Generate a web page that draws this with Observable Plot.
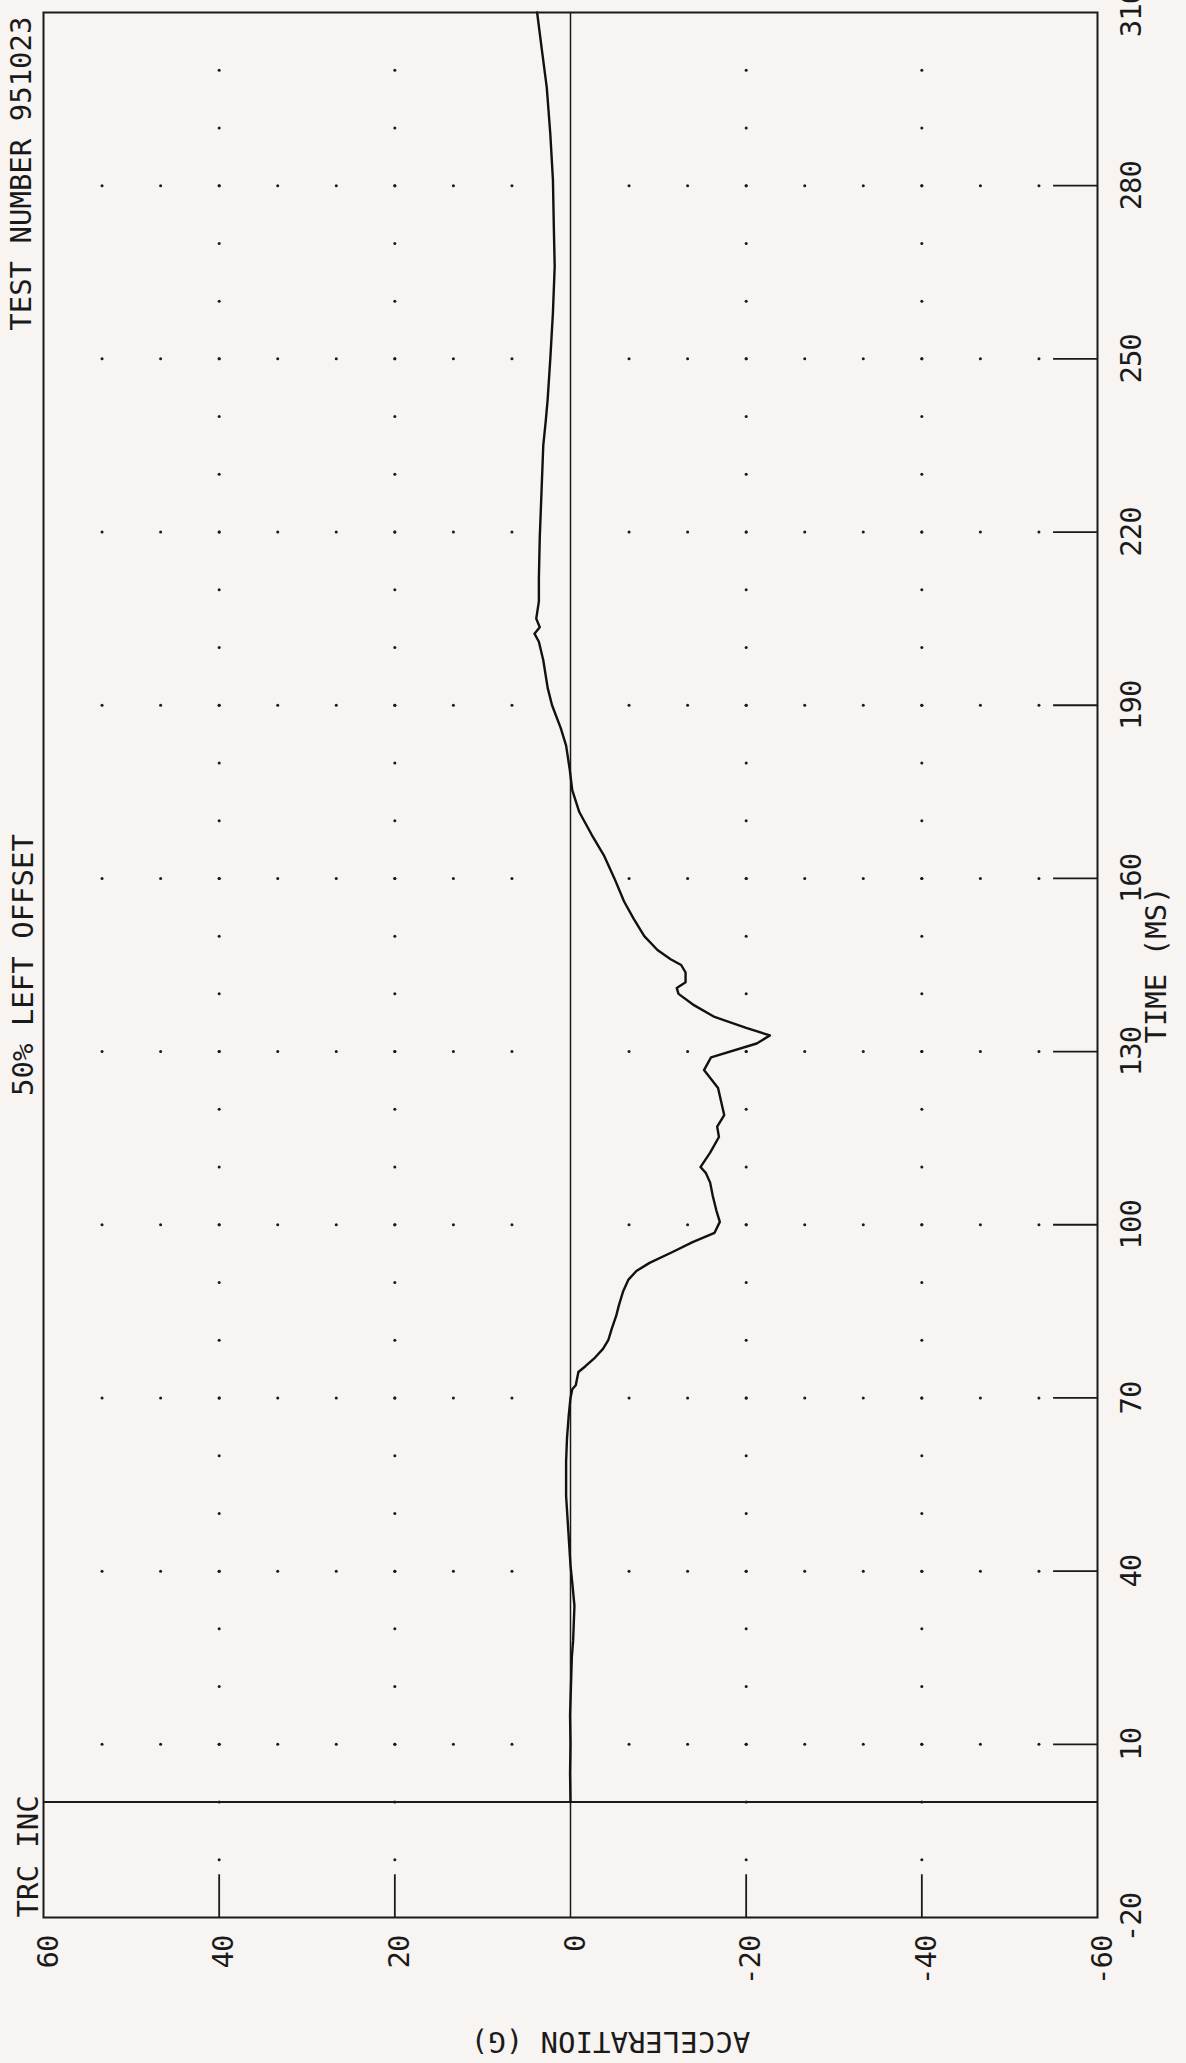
<!DOCTYPE html>
<html>
<head>
<meta charset="utf-8">
<script src="https://cdn.jsdelivr.net/npm/d3@7"></script>
<script src="https://cdn.jsdelivr.net/npm/@observablehq/plot@0.6"></script>
<style>
  html, body { margin: 0; padding: 0; background: #f7f4f2; }
  #chart svg { display: block; }
  g[aria-label="y-axis tick label"] text, g[aria-label="x-axis tick label"] text { letter-spacing: -1px; }
  g[aria-label="title"] text { letter-spacing: 0.5px; }
  g[aria-label="subtitle"] text { letter-spacing: 0.5px; }
  g[aria-label="credit"] text { letter-spacing: 0px; }
  g[aria-label="ylabel"] text { letter-spacing: 2.5px; }
  g[aria-label="xlabel"] text { letter-spacing: 0.5px; }
</style>
</head>
<body>
<div id="chart"></div>
<script>
// ---- data ----
const timeMs = [0, 5, 10, 15, 20, 25, 28, 34, 38, 41, 47, 53, 59, 63, 67, 70, 71.5, 72.2, 74.5, 75.5, 77, 78.5,
  80, 82, 84.2, 86, 88.5, 90.5, 92, 93.4, 95.2, 97, 98.6, 100.5, 102.5, 105, 107.3, 109, 110, 112.5, 115.2,
  117, 119, 121, 123.7, 126.8, 129, 131.4, 132.8, 134.1, 136, 138, 140, 141, 142, 143.7, 145, 146, 147.6,
  150, 153, 156, 160, 164, 167.6, 171.5, 175.3, 179, 183, 186, 190, 193, 197.8, 201, 202.4, 203.5, 205,
  208, 212, 219, 227, 235, 239.5, 243, 250, 258, 266, 273, 281, 289, 297, 304, 310];
const accelG = [0, 0.05, 0, 0.05, -0.05, -0.15, -0.3, -0.45, -0.2, 0, 0.25, 0.5, 0.5, 0.4, 0.2, 0, -0.2, -0.6, -0.9, -1.7, -2.8, -3.7,
  -4.3, -4.7, -5.2, -5.5, -6.0, -6.6, -7.5, -9.0, -11.5, -13.9, -16.4, -17.0, -16.6, -16.2, -15.9, -15.4, -14.8, -15.9, -16.9,
  -16.7, -17.5, -17.2, -16.8, -15.2, -16.0, -21.2, -22.7, -20.0, -16.4, -14.1, -12.3, -12.1, -13.1, -13.1, -12.6, -11.4, -9.9,
  -8.4, -7.2, -6.1, -5.0, -3.8, -2.4, -1.0, -0.2, 0.1, 0.5, 1.1, 2.1, 2.6, 3.1, 3.6, 4.1, 3.5, 3.9,
  3.6, 3.6, 3.5, 3.3, 3.1, 2.8, 2.6, 2.3, 2.0, 1.8, 1.9, 2.0, 2.3, 2.7, 3.3, 3.8];

const timeTicks = [-20, 10, 40, 70, 100, 130, 160, 190, 220, 250, 280, 310];
const timeTickMarks = [10, 40, 70, 100, 130, 160, 190, 220, 250, 280];
const accelTicks = [60, 40, 20, 0, -20, -40, -60];
const accelTickMarks = [40, 20, -20, -40];

// dot grid
const gridRows = [-10, 0, 10, 20, 30, 40, 50, 60, 70, 80, 90, 100, 110, 120, 130, 140, 150, 160, 170, 180,
  190, 200, 210, 220, 230, 240, 250, 260, 270, 280, 290, 300];
const gridCols = [40, 20, -20, -40];
const fineCols = [53.333, 46.667, 40, 33.333, 26.667, 20, 13.333, 6.667, -6.667, -13.333, -20, -26.667, -33.333,
  -40, -46.667, -53.333];

const titleText = "TEST NUMBER 951023";
const subtitleText = "50% LEFT OFFSET";
const creditText = "TRC INC";
const yLabel = "TIME (MS)";
const xLabel = "ACCELERATION (G)";

// ---- tables ----
const trace = timeMs.map((t, i) => ({t, g: accelG[i]}));
const dots = [];
for (const t of gridRows) for (const g of gridCols) dots.push({t, g});
for (const t of timeTickMarks) for (const g of fineCols) dots.push({t, g});

const ink = "#1a1a1a";

const chart = Plot.plot({
  width: 1186,
  height: 2063,
  marginTop: 12,
  marginBottom: 146,
  marginLeft: 43,
  marginRight: 89,
  style: {background: "#f7f4f2", fontFamily: "DejaVu Sans Mono", fontSize: "29px", color: ink},
  x: {domain: [60, -60]},
  y: {domain: [-20, 310]},
  marks: [
    Plot.dot(dots, {x: "g", y: "t", r: 1.5, fill: ink}),
    Plot.ruleX([0], {stroke: ink, strokeWidth: 1.5}),
    Plot.ruleY([0], {stroke: ink, strokeWidth: 2}),
    Plot.ruleY(timeTickMarks, {x1: -55, x2: -60, stroke: ink, strokeWidth: 1.8}),
    Plot.ruleX(accelTickMarks, {y1: -20, y2: -12.6, stroke: ink, strokeWidth: 1.8}),
    Plot.line(trace, {x: "g", y: "t", stroke: "#111", strokeWidth: 2.4}),
    Plot.frame({stroke: ink, strokeWidth: 2}),
    Plot.axisY(timeTicks, {anchor: "right", tickSize: 0, tickPadding: 43, tickRotate: -90,
      textAnchor: "middle", lineAnchor: "bottom", tickFormat: d => String(d), label: null, fontSize: 29, fill: ink}),
    Plot.axisX(accelTicks, {anchor: "bottom", tickSize: 0, tickPadding: 18, tickRotate: -90,
      textAnchor: "end", lineAnchor: "bottom", dx: 14, tickFormat: d => String(d), label: null, fontSize: 29, fill: ink}),
    Plot.text([titleText], {frameAnchor: "top-left", dx: -13, dy: 4, rotate: -90, textAnchor: "end",
      lineAnchor: "bottom", fontSize: 29, fill: ink, ariaLabel: "title"}),
    Plot.text([subtitleText], {frameAnchor: "left", dx: -11, rotate: -90, textAnchor: "middle",
      lineAnchor: "bottom", fontSize: 29, fill: ink, ariaLabel: "subtitle"}),
    Plot.text([creditText], {frameAnchor: "bottom-left", dx: -6, rotate: -90, textAnchor: "start",
      lineAnchor: "bottom", fontSize: 29, fill: ink, ariaLabel: "credit"}),
    Plot.text([yLabel], {frameAnchor: "right", dx: 68, rotate: -90, textAnchor: "middle",
      lineAnchor: "bottom", fontSize: 29, fill: ink, ariaLabel: "ylabel"}),
    Plot.text([xLabel], {frameAnchor: "bottom", dx: 40, dy: 114, rotate: 180, textAnchor: "middle",
      lineAnchor: "bottom", fontSize: 29, fill: ink, ariaLabel: "xlabel"})
  ]
});
document.getElementById("chart").appendChild(chart);
</script>
</body>
</html>
